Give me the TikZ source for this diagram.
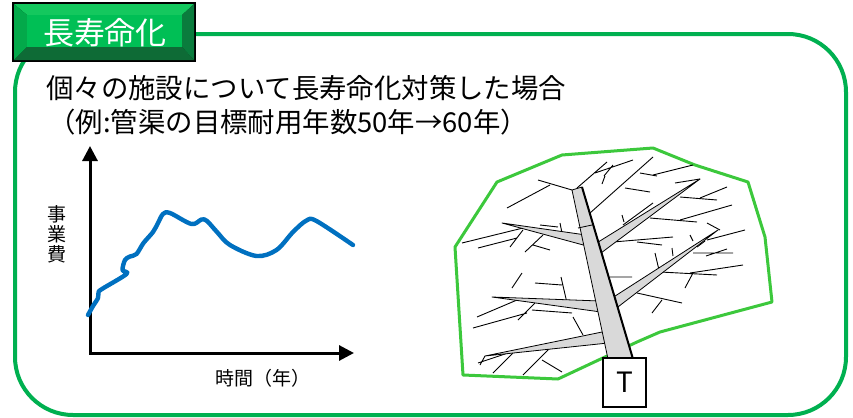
\documentclass[tikz,border=0pt]{standalone}
\usepackage{fontspec}
\setmainfont{Noto Sans CJK JP}
\usepackage{tikz}
\usetikzlibrary{arrows.meta}

\definecolor{framegreen}{HTML}{00B050}
\definecolor{facegreen}{HTML}{00BF55}
\definecolor{lightgreen}{HTML}{14C85E}
\definecolor{midgreen}{HTML}{03A94A}
\definecolor{darkgreen}{HTML}{0E6B36}
\definecolor{rightgreen}{HTML}{0A7C3D}
\definecolor{costblue}{HTML}{0070C0}
\definecolor{areagreen}{HTML}{3CC83C}
\definecolor{trunkgray}{HTML}{D9D9D9}

\tikzset{
	frame/.style={draw=framegreen, line width=2pt, rounded corners=29pt},
	axis/.style={line width=1.5pt, {Triangle[length=7.5pt,width=7.5pt]}-{Triangle[length=7.5pt,width=7.5pt]}},
	cost/.style={draw=costblue, line width=2.2pt, line cap=round, line join=round},
	area/.style={draw=areagreen, line width=1.5pt, line join=round},
	pipe/.style={draw=black, fill=trunkgray, line width=0.4pt, line join=round},
	twig/.style={draw=black, line width=0.45pt},
	label/.style={inner sep=0pt, font=\fontsize{9.5}{10}\selectfont}
}

\begin{document}
\begin{tikzpicture}[x=0.5pt, y=-0.5pt]
	
	\useasboundingbox (0,0) rectangle (853,418);
	
	% outer frame
	\draw[frame] (15,34) rectangle (846,415);
	
	% title button
	\fill[black] (12,2) rectangle (196,62);
	\fill[lightgreen] (14,4) -- (194,4) -- (182,15) -- (27,15) -- cycle;
	\fill[midgreen] (14,4) -- (27,15) -- (27,47) -- (14,60) -- cycle;
	\fill[darkgreen] (14,60) -- (27,47) -- (182,47) -- (194,60) -- cycle;
	\fill[rightgreen] (194,4) -- (182,15) -- (182,47) -- (194,60) -- cycle;
	\fill[facegreen] (27,15) rectangle (182,47);
	\node[text=white, inner sep=0pt, font=\fontsize{15.5}{16}\selectfont] (title) at (105,33) {長寿命化};
	
	\node[anchor=west, inner sep=0pt, font=\fontsize{13.7}{15}\selectfont] (line1) at (46,88) {個々の施設について長寿命化対策した場合};
	\node[anchor=west, inner sep=0pt, font=\fontsize{13.7}{15}\selectfont] (line2) at (48,122) {（例:管渠の目標耐用年数50年→60年）};
	
	% cost graph
	\coordinate (o) at (90,353);
	\coordinate (xe) at (354,353);
	\coordinate (ye) at (90,146);
	\draw[axis] (xe) -- (o) -- (ye);
	\node[label, align=center] (ylab) at (57,234) {事\\[0pt]業\\[0pt]費};
	\node[label] (xlab) at (263,378) {時間（年）};
	
	\draw[cost] plot[smooth, tension=0.55] coordinates {
		(88,315) (93,306) (98,298) (98.5,292.5) (102,289) (126.5,274) (122.5,270)
		(125,260) (130,256.5) (136.5,254) (143.5,243) (153,232) (158,223)
		(163,214) (170,213) (191.5,224) (201.5,219.5) (207,221) (217,232)
		(230,245) (256.5,256) (276.5,250) (293,232) (306.5,220.5) (316.5,221) (353,245)};
	
	% pipe network area
	\draw[area] (497,182) -- (562,155) -- (653,148) -- (695,165) -- (748,182) -- (765,237)
		-- (772,302) -- (660,332) -- (637,342) -- (558,379) -- (463,375) -- (455,247) -- cycle;
	
	% small pipes
	\draw[twig] (538,180) -- (572,190) (507,208) -- (550,185) (577,188) -- (607,162)
		(595,173) -- (633,160) (602,184) -- (605,176) (604,176) -- (613,165)
		(590,213) -- (653,157) (653,175) -- (693,165) (640,173) -- (657,176)
		(625,188) -- (650,192) (675,183) -- (700,179) (680,197) -- (717,200)
		(700,198) -- (727,187) (622,215) -- (624,222) (623,225) -- (653,203)
		(650,218) -- (697,222) (680,220) -- (732,205);
	\draw[twig] (540,225) -- (558,227) (560,223) -- (562,233) (462,243) -- (523,228)
		(478,248) -- (517,238) (510,247) -- (523,230) (525,252) -- (543,235)
		(533,245) -- (550,250);
	\draw[twig] (613,242) -- (673,237) (637,242) -- (662,245) (655,253) -- (659,270)
		(672,248) -- (673,256) (690,235) -- (693,241) (693,253) -- (733,253)
		(707,240) -- (745,230) (706,256) -- (727,249) (660,272) -- (717,275)
		(690,273) -- (743,265) (685,288) -- (693,273) (610,277) -- (632,277)
		(637,293) -- (682,303) (652,313) -- (662,300) (697,247) -- (705,241)
		(707,223) -- (720,230);
	\draw[twig] (512,288) -- (522,273) (535,283) -- (562,285) (561,277) -- (567,303)
		(477,317) -- (517,300) (473,328) -- (527,313) (518,320) -- (535,303)
		(532,310) -- (572,313) (573,317) -- (583,335) (478,363) -- (508,353)
		(493,373) -- (513,353) (523,375) -- (550,348) (542,360) -- (562,372)
		(480,365) -- (485,356);
	
	% branch mains
	\draw[pipe] (586,235) -- (502,223) -- (587,246) -- cycle;
	\draw[pipe] (595,244) -- (700,179) -- (597,256) -- cycle;
	\draw[pipe] (612,298) -- (718,230) -- (614,310) -- cycle;
	\draw[pipe] (600,301) -- (492,297) -- (601,312) -- cycle;
	\draw[pipe] (607,331) -- (485,356) -- (608,343) -- cycle;
	
	% trunk main
	\draw[pipe] (572,190) -- (582,187) -- (633,359) -- (608,359) -- cycle;
	\draw[line width=1pt] (582,187) -- (633,359);
	\draw[line width=0.4pt] (578,228) -- (592,225);
	
	\node[draw, fill=white, line width=1pt, minimum width=21.5pt, minimum height=24.5pt,
		inner sep=0pt, font=\fontsize{14}{14}\selectfont] (T) at (624.5,382.5) {T};
	
\end{tikzpicture}
\end{document}
